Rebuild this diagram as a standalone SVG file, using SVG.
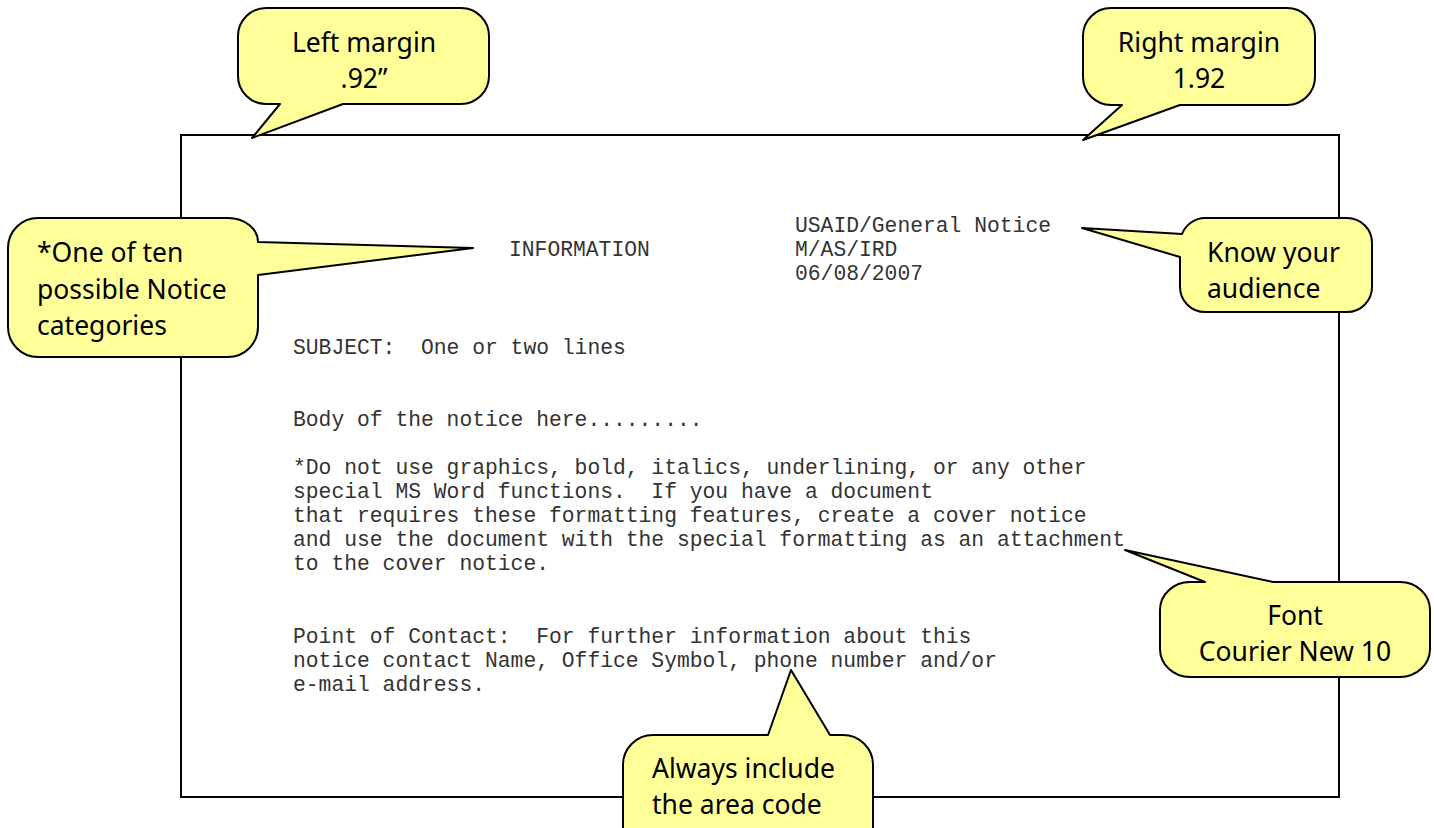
<svg xmlns="http://www.w3.org/2000/svg" width="1434" height="828" viewBox="0 0 1434 828">
<style>
.page{fill:#fff;stroke:#000;stroke-width:2}
.bubble{fill:#ffff99;stroke:#000;stroke-width:2;stroke-linejoin:round}
.cl{font-family:"Comic Sans MS","Noto Sans","DejaVu Sans",sans-serif;font-size:26.5px;fill:#000}
.mid{text-anchor:middle}
.mono{font-family:"Liberation Mono","Courier New",monospace;font-size:21.33px;fill:#333}
</style>
<rect width="1434" height="828" fill="#fff"/>
<g id="page">
<rect class="page" x="181" y="135" width="1158" height="662"/>
<g class="mono">
<text x="509" y="256">INFORMATION</text>
<text x="795" y="232">USAID/General Notice</text>
<text x="795" y="256">M/AS/IRD</text>
<text x="795" y="280">06/08/2007</text>
<text x="293" y="354" xml:space="preserve">SUBJECT:  One or two lines</text>
<text x="293" y="426">Body of the notice here.........</text>
<text x="293" y="474">*Do not use graphics, bold, italics, underlining, or any other</text>
<text x="293" y="498" xml:space="preserve">special MS Word functions.  If you have a document</text>
<text x="293" y="522">that requires these formatting features, create a cover notice</text>
<text x="293" y="546">and use the document with the special formatting as an attachment</text>
<text x="293" y="570">to the cover notice.</text>
<text x="293" y="643" xml:space="preserve">Point of Contact:  For further information about this</text>
<text x="293" y="667">notice contact Name, Office Symbol, phone number and/or</text>
<text x="293" y="691">e-mail address.</text>
</g>
</g>
<g id="left-margin">
<path class="bubble" d="M266,8 H461 A28 28 0 0 1 489,36 V76 A28 28 0 0 1 461,104 H343 L252,138 L280,104 H266 A28 28 0 0 1 238,76 V36 A28 28 0 0 1 266,8 Z"/>
<text class="cl mid" x="364" y="52">Left margin</text>
<text class="cl mid" x="364" y="88">.92”</text>
</g>
<g id="right-margin">
<path class="bubble" d="M1111,8 H1287 A28 28 0 0 1 1315,36 V77 A28 28 0 0 1 1287,105 H1180 L1083,140 L1122,105 H1111 A28 28 0 0 1 1083,77 V36 A28 28 0 0 1 1111,8 Z"/>
<text class="cl mid" x="1199" y="52">Right margin</text>
<text class="cl mid" x="1199" y="88">1.92</text>
</g>
<g id="categories">
<path class="bubble" d="M38,218 H228 A30 24 0 0 1 258,242 L473,248 L258,275 V327 A30 30 0 0 1 228,357 H38 A30 30 0 0 1 8,327 V248 A30 30 0 0 1 38,218 Z"/>
<text class="cl" x="37" y="262">*One of ten</text>
<text class="cl" x="37" y="299">possible Notice</text>
<text class="cl" x="37" y="335">categories</text>
</g>
<g id="audience">
<path class="bubble" d="M1205,218 H1347 A25 25 0 0 1 1372,243 V287 A25 25 0 0 1 1347,312 H1205 A25 25 0 0 1 1180,287 V257 L1082,228 L1182,234 A25 25 0 0 1 1205,218 Z"/>
<text class="cl" x="1207" y="262">Know your</text>
<text class="cl" x="1207" y="298">audience</text>
</g>
<g id="font">
<path class="bubble" d="M1190,582 H1205 L1125,550 L1273,582 H1400 A30 28 0 0 1 1430,610 V649 A30 28 0 0 1 1400,677 H1190 A30 28 0 0 1 1160,649 V610 A30 28 0 0 1 1190,582 Z"/>
<text class="cl mid" x="1295" y="625">Font</text>
<text class="cl mid" x="1295" y="661">Courier New 10</text>
</g>
<g id="area-code">
<path class="bubble" d="M653,735 H768 L791,670 L830,735 H843 A30 30 0 0 1 873,765 V860 H623 V765 A30 30 0 0 1 653,735 Z"/>
<text class="cl" x="652" y="778">Always include</text>
<text class="cl" x="652" y="814">the area code</text>
</g>
</svg>
